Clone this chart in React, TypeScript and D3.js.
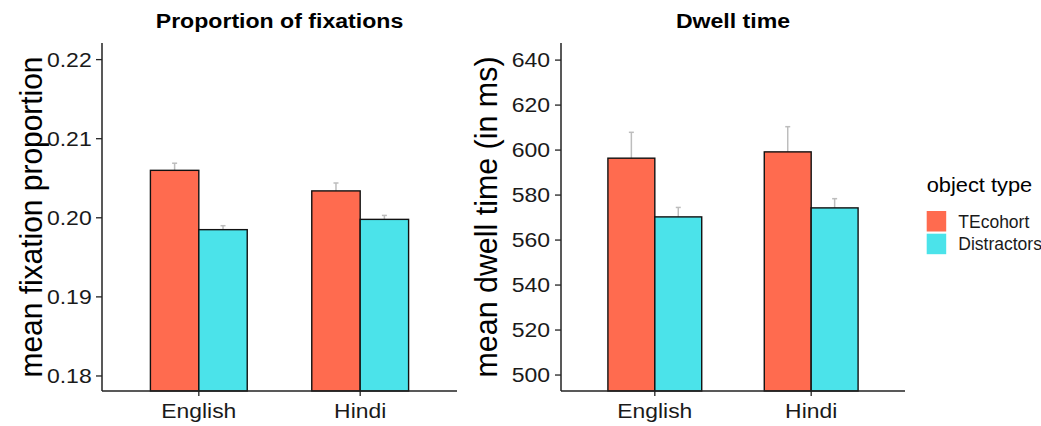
import React from "react";
import * as d3 from "d3";

const categories = ["English", "Hindi"];
const seriesNames = ["TEcohort", "Distractors"];
const seriesColors = ["#FF6B4F", "#4BE3EA"];

const fixationTE = [0.206, 0.2034];
const fixationDist = [0.1985, 0.1998];
const fixationTEUpper = [0.2069, 0.2044];
const fixationDistUpper = [0.199, 0.2003];
const fixationTicks = [0.18, 0.19, 0.2, 0.21, 0.22];

const dwellTE = [596.4, 599.2];
const dwellDist = [570.3, 574.3];
const dwellTEUpper = [607.9, 610.4];
const dwellDistUpper = [574.5, 578.4];
const dwellTicks = [500, 520, 540, 560, 580, 600, 620, 640];

const FONT = "'Liberation Sans', Arial, Helvetica, sans-serif";

type PanelProps = {
  title: string;
  yTitle: string;
  x0: number;
  x1: number;
  yDomain: [number, number];
  ticks: number[];
  fmt: (v: number) => string;
  te: number[];
  dist: number[];
  teUp: number[];
  distUp: number[];
  yTitleX: number;
  labelRight: number;
};

const TOP = 43;
const BOTTOM = 391;

function Panel(p: PanelProps) {
  const x = d3.scaleLinear().domain([0.4, 2.6]).range([p.x0, p.x1]);
  const y = d3.scaleLinear().domain(p.yDomain).range([BOTTOM, TOP]);
  const values = [p.te, p.dist];
  const uppers = [p.teUp, p.distUp];
  const cx = (p.x0 + p.x1) / 2;
  const cy = (TOP + BOTTOM) / 2;
  return (
    <g>
      <text
        transform={`translate(${cx},28.3) scale(1.1,1)`}
        textAnchor="middle"
        fontFamily={FONT}
        fontWeight="bold"
        fontSize={21}
        fill="#000"
      >
        {p.title}
      </text>
      {categories.map((c, ci) =>
        seriesNames.map((s, si) => {
          const center = ci + 1 + (si === 0 ? -0.15 : 0.15);
          const xc = x(center);
          return (
            <g key={`e-${c}-${s}`} stroke="#BDBDBD" strokeWidth={1.5}>
              <line x1={xc} x2={xc} y1={y(values[si][ci])} y2={y(uppers[si][ci])} />
              <line x1={xc - 2.5} x2={xc + 2.5} y1={y(uppers[si][ci])} y2={y(uppers[si][ci])} />
            </g>
          );
        })
      )}
      {categories.map((c, ci) =>
        seriesNames.map((s, si) => {
          const left = ci + 1 + (si === 0 ? -0.3 : 0);
          const xl = x(left);
          const xr = x(left + 0.3);
          const yt = y(values[si][ci]);
          return (
            <rect
              key={`b-${c}-${s}`}
              x={xl}
              y={yt}
              width={xr - xl}
              height={BOTTOM - yt}
              fill={seriesColors[si]}
              stroke="#111"
              strokeWidth={1.4}
            />
          );
        })
      )}
      <line x1={p.x0} x2={p.x0} y1={TOP} y2={BOTTOM} stroke="#222" strokeWidth={1.5} />
      <line x1={p.x0} x2={p.x1} y1={BOTTOM} y2={BOTTOM} stroke="#222" strokeWidth={1.5} />
      {p.ticks.map((t) => (
        <g key={`t-${t}`}>
          <line x1={p.x0 - 6} x2={p.x0} y1={y(t)} y2={y(t)} stroke="#222" strokeWidth={1.3} />
          <text
            transform={`translate(${p.labelRight},${y(t) + 7}) scale(1.18,1)`}
            textAnchor="end"
            fontFamily={FONT}
            fontSize={19.5}
            fill="#1a1a1a"
          >
            {p.fmt(t)}
          </text>
        </g>
      ))}
      {categories.map((c, ci) => (
        <g key={`x-${c}`}>
          <line x1={x(ci + 1)} x2={x(ci + 1)} y1={BOTTOM} y2={BOTTOM + 5} stroke="#222" strokeWidth={1.3} />
          <text
            transform={`translate(${x(ci + 1)},417.5) scale(1.09,1)`}
            textAnchor="middle"
            fontFamily={FONT}
            fontSize={21}
            fill="#1a1a1a"
          >
            {c}
          </text>
        </g>
      ))}
      <text
        transform={`translate(${p.yTitleX},${cy}) rotate(-90)`}
        textAnchor="middle"
        fontFamily={FONT}
        fontSize={32}
        textLength={321}
        lengthAdjust="spacingAndGlyphs"
        fill="#000"
      >
        {p.yTitle}
      </text>
    </g>
  );
}

export default function App() {
  return (
    <svg
      width={1041}
      height={426}
      style={{ position: "absolute", left: 0, top: 0, display: "block", background: "#fff" }}
    >
      <rect x={0} y={0} width={1041} height={426} fill="#fff" />
      <Panel
        title="Proportion of fixations"
        yTitle="mean fixation proportion"
        x0={102}
        x1={457}
        yDomain={[0.1781, 0.2221]}
        ticks={fixationTicks}
        fmt={(v) => v.toFixed(2)}
        te={fixationTE}
        dist={fixationDist}
        teUp={fixationTEUpper}
        distUp={fixationDistUpper}
        yTitleX={42}
        labelRight={91.7}
      />
      <Panel
        title="Dwell time"
        yTitle="mean dwell time (in ms)"
        x0={561}
        x1={905}
        yDomain={[492.9, 647.6]}
        ticks={dwellTicks}
        fmt={(v) => String(v)}
        te={dwellTE}
        dist={dwellDist}
        teUp={dwellTEUpper}
        distUp={dwellDistUpper}
        yTitleX={497}
        labelRight={550}
      />
      <g fontFamily={FONT}>
        <text transform="translate(926.7,192) scale(1.12,1)" fontSize={19.5} fill="#000">
          object type
        </text>
        {seriesNames.map((s, i) => (
          <g key={`l-${s}`}>
            <rect x={926.7} y={211 + i * 22.7} width={19.5} height={20.5} fill={seriesColors[i]} />
            <text x={958.3} y={227.5 + i * 22} fontSize={17.5} fill="#1a1a1a">
              {s}
            </text>
          </g>
        ))}
      </g>
    </svg>
  );
}
